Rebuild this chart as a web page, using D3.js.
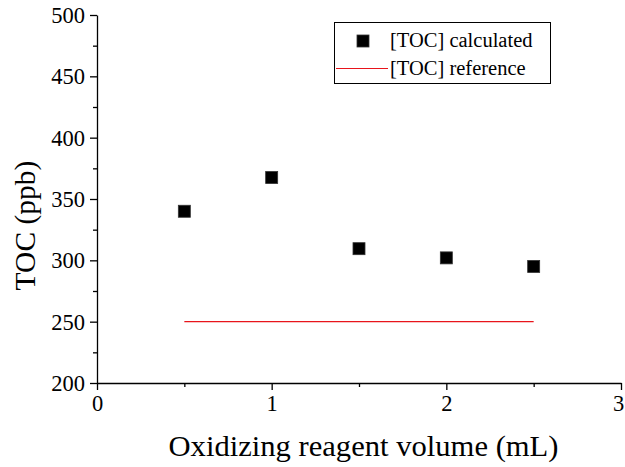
<!DOCTYPE html>
<html>
<head>
<meta charset="utf-8">
<script src="https://cdn.jsdelivr.net/npm/d3@7"></script>
<style>
  html, body { margin: 0; padding: 0; background: #fff; }
  svg { display: block; }
</style>
</head>
<body>
<script>
// Oxidizing reagent volume (mL) and calculated TOC (ppb)
const volumes = [0.5, 1.0, 1.5, 2.0, 2.5];
const tocCalculated = [340, 367.5, 309.5, 302, 295];
// Reference TOC level, drawn across the measured volume range
const tocReference = 250;
const referenceSpan = [0.5, 2.5];
const xTicks = [0, 1, 2, 3];
const yTicks = [200, 250, 300, 350, 400, 450, 500];
const legendLabels = ["[TOC] calculated", "[TOC] reference"];

const FONT = '"Liberation Serif"';
const W = 625, H = 467;
const margin = { left: 97, right: 4, top: 15, bottom: 84 };

const svg = d3.select("body").append("svg").attr("width", W).attr("height", H);

const x = d3.scaleLinear().domain([0, 3]).range([margin.left, W - margin.right]);
const y = d3.scaleLinear().domain([200, 500]).range([H - margin.bottom, margin.top]);

// Major ticks with labels
const xAxis = d3.axisBottom(x).tickValues(xTicks).tickFormat(d3.format("d"))
  .tickSizeInner(7).tickSizeOuter(0).tickPadding(5);
const yAxis = d3.axisLeft(y).tickValues(yTicks).tickFormat(d3.format("d"))
  .tickSizeInner(7).tickSizeOuter(0).tickPadding(5);

const gx = svg.append("g").attr("transform", `translate(0,${y(200)})`).call(xAxis);
const gy = svg.append("g").attr("transform", `translate(${x(0)},0)`).call(yAxis);

// Minor ticks between the majors
const xMinor = d3.range(0.5, 3, 1);
const yMinor = d3.range(225, 500, 50);
svg.append("g").attr("transform", `translate(0,${y(200)})`)
  .call(d3.axisBottom(x).tickValues(xMinor).tickFormat("").tickSizeInner(4).tickSizeOuter(0))
  .select(".domain").remove();
svg.append("g").attr("transform", `translate(${x(0)},0)`)
  .call(d3.axisLeft(y).tickValues(yMinor).tickFormat("").tickSizeInner(4).tickSizeOuter(0))
  .select(".domain").remove();

svg.selectAll(".domain, .tick line").attr("stroke", "#000").attr("stroke-width", 1.3);
svg.selectAll("g").attr("font-family", null).attr("font-size", null);
gx.selectAll(".tick text").style("font-family", FONT).style("font-size", "22.5px")
  .attr("dx", d => d === 3 ? "-3px" : null);
gy.selectAll(".tick text").style("font-family", FONT).style("font-size", "22.5px").attr("dy", "0.34em");

// Axis titles
svg.append("text")
  .attr("x", 363.5).attr("y", 456)
  .attr("text-anchor", "middle").style("font-family", FONT).style("font-size", "29px")
  .attr("textLength", 390).attr("lengthAdjust", "spacingAndGlyphs")
  .text("Oxidizing reagent volume (mL)");
svg.append("text")
  .attr("transform", "translate(35,225.5) rotate(-90)")
  .attr("text-anchor", "middle").style("font-family", FONT).style("font-size", "29.5px")
  .text("TOC (ppb)");

// Reference line
svg.append("line")
  .attr("x1", x(referenceSpan[0])).attr("x2", x(referenceSpan[1]))
  .attr("y1", y(tocReference)).attr("y2", y(tocReference))
  .attr("stroke", "#e8141b").attr("stroke-width", 1.2);

// Calculated points as square markers
const sq = 12;
svg.append("g").selectAll("rect")
  .data(volumes.map((v, i) => [v, tocCalculated[i]]))
  .join("rect")
  .attr("x", d => x(d[0]) - sq / 2).attr("y", d => y(d[1]) - sq / 2)
  .attr("width", sq).attr("height", sq)
  .attr("fill", "#000").attr("stroke", "#333").attr("stroke-width", 0.8);

// Legend
const lg = svg.append("g");
lg.append("rect").attr("x", 334.5).attr("y", 22.5).attr("width", 216).attr("height", 61)
  .attr("fill", "#fff").attr("stroke", "#000").attr("stroke-width", 1);
lg.append("rect").attr("x", 363 - sq / 2).attr("y", 41 - sq / 2).attr("width", sq).attr("height", sq)
  .attr("fill", "#000").attr("stroke", "#333").attr("stroke-width", 0.8);
lg.append("line").attr("x1", 336).attr("x2", 388).attr("y1", 68.5).attr("y2", 68.5)
  .attr("stroke", "#e8141b").attr("stroke-width", 1.2);
lg.selectAll("text.lab").data(legendLabels).join("text").attr("class", "lab")
  .attr("x", 390).attr("y", (d, i) => 40.5 + i * 27.5).attr("dy", "0.34em")
  .style("font-family", FONT).style("font-size", "20.5px").text(d => d);
</script>
</body>
</html>
